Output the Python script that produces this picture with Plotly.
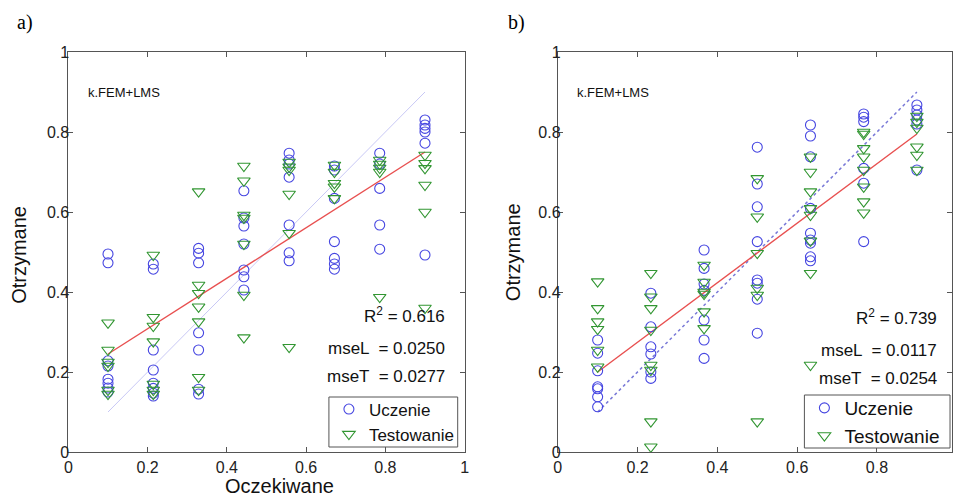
import plotly.graph_objects as go

# ---------------- data: panel a) ----------------
a_levels = [0.1, 0.2143, 0.3286, 0.4429, 0.5571, 0.6714, 0.7857, 0.9]
a_ucz = [
    [0.495, 0.473, 0.228, 0.215, 0.182, 0.172, 0.16, 0.15],
    [0.47, 0.457, 0.255, 0.205, 0.172, 0.159, 0.147, 0.14],
    [0.509, 0.497, 0.473, 0.298, 0.255, 0.157, 0.145],
    [0.653, 0.585, 0.565, 0.52, 0.455, 0.438, 0.405],
    [0.747, 0.73, 0.72, 0.687, 0.5675, 0.498, 0.478],
    [0.715, 0.705, 0.634, 0.526, 0.484, 0.47, 0.457],
    [0.747, 0.72, 0.659, 0.5675, 0.507],
    [0.83, 0.8175, 0.809, 0.80, 0.772, 0.4925],
]
a_test = [
    [0.323, 0.255, 0.225, 0.215, 0.155, 0.145],
    [0.4925, 0.337, 0.315, 0.276, 0.17, 0.155, 0.145],
    [0.651, 0.4175, 0.397, 0.363, 0.326, 0.187, 0.155],
    [0.715, 0.678, 0.5925, 0.585, 0.52, 0.3925, 0.286],
    [0.725, 0.713, 0.705, 0.645, 0.547, 0.262],
    [0.7175, 0.70, 0.672, 0.663, 0.634],
    [0.73, 0.72, 0.71, 0.70, 0.387],
    [0.7425, 0.722, 0.709, 0.6675, 0.60, 0.36],
]
a_fit_x = [0.1, 0.9]
a_fit_y = [0.245, 0.75]
a_ideal_x = [0.1, 0.9]
a_ideal_y = [0.1, 0.9]
a_stats = ["R<sup>2</sup> = 0.616", "mseL  = 0.0250", "mseT  = 0.0277"]

# ---------------- data: panel b) ----------------
b_levels = [0.1, 0.2333, 0.3667, 0.5, 0.6333, 0.7667, 0.9]
b_ucz = [
    [0.28, 0.247, 0.203, 0.163, 0.158, 0.138, 0.113],
    [0.397, 0.313, 0.263, 0.245, 0.20, 0.184],
    [0.505, 0.459, 0.42, 0.404, 0.33, 0.28, 0.234],
    [0.762, 0.67, 0.613, 0.526, 0.43, 0.422, 0.382, 0.297],
    [0.8175, 0.79, 0.738, 0.609, 0.547, 0.53, 0.522, 0.488, 0.478],
    [0.845, 0.837, 0.826, 0.709, 0.672, 0.526],
    [0.8675, 0.855, 0.8425, 0.83, 0.82, 0.705],
]
b_test = [
    [0.426, 0.359, 0.326, 0.307, 0.255, 0.213],
    [0.447, 0.388, 0.359, 0.305, 0.2175, 0.205, 0.076, 0.013],
    [0.4675, 0.425, 0.40, 0.395, 0.351, 0.309],
    [0.684, 0.588, 0.497, 0.41, 0.3925, 0.076],
    [0.738, 0.70, 0.651, 0.609, 0.5925, 0.528, 0.447, 0.2175],
    [0.80, 0.795, 0.759, 0.738, 0.705, 0.663, 0.626, 0.598],
    [0.84, 0.825, 0.81, 0.763, 0.7425, 0.705],
]
b_fit_x = [0.1, 0.9]
b_fit_y = [0.2, 0.795]
b_ideal_x = [0.1, 0.9]
b_ideal_y = [0.1, 0.9]
b_stats = ["R<sup>2</sup> = 0.739", "mseL  = 0.0117", "mseT  = 0.0254"]

series_names = ["Uczenie", "Testowanie"]
tick_vals = [0, 0.2, 0.4, 0.6, 0.8, 1]
tick_text = ["0", "0.2", "0.4", "0.6", "0.8", "1"]


def flatten(levels, groups):
    xs, ys = [], []
    for lv, g in zip(levels, groups):
        for v in g:
            xs.append(lv)
            ys.append(v)
    return xs, ys


FONT = "Liberation Sans, Arial, sans-serif"
SERIF = "Liberation Serif, Times New Roman, serif"
BLUE = "rgb(70,70,225)"
GREEN = "rgb(50,150,50)"
RED = "rgb(232,80,80)"
W, H = 957, 496
TOP, BOT = 52, 452


def px(p):
    return p / W


def py(p):
    return (BOT - p) / (BOT - TOP)


fig = go.Figure()


def add_panel(xa, ya, levels, ucz, test, fit_x, fit_y, ideal_x, ideal_y, ideal_style, legend):
    fig.add_trace(go.Scatter(x=ideal_x, y=ideal_y, mode="lines", xaxis=xa, yaxis=ya,
                             line=ideal_style, showlegend=False, hoverinfo="skip"))
    fig.add_trace(go.Scatter(x=fit_x, y=fit_y, mode="lines", xaxis=xa, yaxis=ya,
                             line=dict(color=RED, width=1.4), showlegend=False, hoverinfo="skip"))
    ux, uy = flatten(levels, ucz)
    tx, ty = flatten(levels, test)
    fig.add_trace(go.Scatter(x=ux, y=uy, mode="markers", name=series_names[0], xaxis=xa, yaxis=ya,
                             marker=dict(symbol="circle-open", size=10, color=BLUE, line=dict(width=1.1)),
                             legend=legend))
    fig.add_trace(go.Scatter(x=tx, y=ty, mode="markers", name=series_names[1], xaxis=xa, yaxis=ya,
                             marker=dict(symbol="triangle-down-open", size=11, color=GREEN, line=dict(width=1.1)),
                             legend=legend))


add_panel("x", "y", a_levels, a_ucz, a_test, a_fit_x, a_fit_y, a_ideal_x, a_ideal_y,
          dict(color="rgb(200,200,245)", width=1), "legend")
add_panel("x2", "y2", b_levels, b_ucz, b_test, b_fit_x, b_fit_y, b_ideal_x, b_ideal_y,
          dict(color="rgb(120,120,215)", width=1.5, dash="dot"), "legend2")

axis_common = dict(showgrid=False, zeroline=False, showline=True, linecolor="#555", linewidth=1,
                   mirror="ticks", ticks="inside", ticklen=5, tickcolor="#555",
                   tickfont=dict(family=FONT, size=16, color="#222"))

fig.update_layout(
    width=W, height=H,
    margin=dict(l=0, r=0, t=TOP, b=H - BOT),
    paper_bgcolor="white", plot_bgcolor="white",
    xaxis=dict(domain=[px(65), px(465)], range=[0, 1], tickvals=tick_vals, ticktext=tick_text,
               anchor="y", ticklabelstandoff=1, **axis_common),
    yaxis=dict(domain=[0, 1], range=[0, 1], tickvals=tick_vals, ticktext=tick_text,
               anchor="x", ticklabelstandoff=-5, **axis_common),
    xaxis2=dict(domain=[px(559), 1], range=[0, 0.988], tickvals=tick_vals[:-1], ticktext=tick_text[:-1],
                anchor="y2", ticklabelstandoff=1, **axis_common),
    yaxis2=dict(domain=[0, 1], range=[0, 1], tickvals=tick_vals, ticktext=tick_text,
                anchor="x2", ticklabelstandoff=-7, **axis_common),
    legend=dict(x=px(328), y=py(422), xanchor="left", yanchor="middle", bgcolor="rgba(0,0,0,0)",
                borderwidth=0, font=dict(family=FONT, size=17, color="#111"),
                tracegroupgap=0, itemwidth=30),
    legend2=dict(x=px(808), y=py(422), xanchor="left", yanchor="middle", bgcolor="rgba(0,0,0,0)",
                 borderwidth=0, font=dict(family=FONT, size=19, color="#111"),
                 tracegroupgap=0, itemwidth=30),
    showlegend=True,
    shapes=[
        dict(type="rect", xref="paper", yref="paper", x0=px(328), x1=px(458), y0=py(447), y1=py(397),
             line=dict(color="#555", width=1), fillcolor="white", layer="above"),
        dict(type="rect", xref="paper", yref="paper", x0=px(808), x1=px(955), y0=py(448), y1=py(395),
             line=dict(color="#555", width=1), fillcolor="white", layer="above"),
    ],
)

anns = []
# panel labels
anns.append(dict(text="a)", x=px(21), y=py(22), xref="paper", yref="paper", showarrow=False,
                 xanchor="center", yanchor="middle", font=dict(family=SERIF, size=20, color="#000")))
anns.append(dict(text="b)", x=px(517), y=py(22), xref="paper", yref="paper", showarrow=False,
                 xanchor="center", yanchor="middle", font=dict(family=SERIF, size=20, color="#000")))
# axis titles
anns.append(dict(text="Otrzymane", x=px(15), y=py(255), xref="paper", yref="paper", showarrow=False,
                 xanchor="center", yanchor="middle", textangle=-90,
                 font=dict(family=FONT, size=20, color="#111")))
anns.append(dict(text="Otrzymane", x=px(514), y=py(252), xref="paper", yref="paper", showarrow=False,
                 xanchor="center", yanchor="middle", textangle=-90,
                 font=dict(family=FONT, size=20, color="#111")))
anns.append(dict(text="Oczekiwane", x=px(278), y=py(486), xref="paper", yref="paper", showarrow=False,
                 xanchor="center", yanchor="middle", borderpad=0,
                 font=dict(family=FONT, size=20, color="#111")))
# method labels
anns.append(dict(text="k.FEM+LMS", x=0.045, y=0.898, xref="x", yref="y", xanchor="left", yanchor="middle",
                 showarrow=False, font=dict(family=FONT, size=13, color="#111")))
anns.append(dict(text="k.FEM+LMS", x=0.042, y=0.898, xref="x2", yref="y2", xanchor="left", yanchor="middle",
                 showarrow=False, font=dict(family=FONT, size=13, color="#111")))
# stats
for txt, yy in zip(a_stats, [py(315), py(348), py(376)]):
    anns.append(dict(text=txt, x=0.955, y=yy, xref="x", yref="y", xanchor="right", yanchor="middle",
                     showarrow=False, font=dict(family=FONT, size=17, color="#111")))
for txt, yy in zip(b_stats, [py(317), py(350), py(378)]):
    anns.append(dict(text=txt, x=0.955, y=yy, xref="x2", yref="y2", xanchor="right", yanchor="middle",
                     showarrow=False, font=dict(family=FONT, size=17, color="#111")))
fig.update_layout(annotations=anns)

fig.write_html("out.html", config={"displayModeBar": False},
               post_script="document.body.style.margin='0';document.body.style.padding='0';"
                           "document.body.style.overflow='hidden';")
